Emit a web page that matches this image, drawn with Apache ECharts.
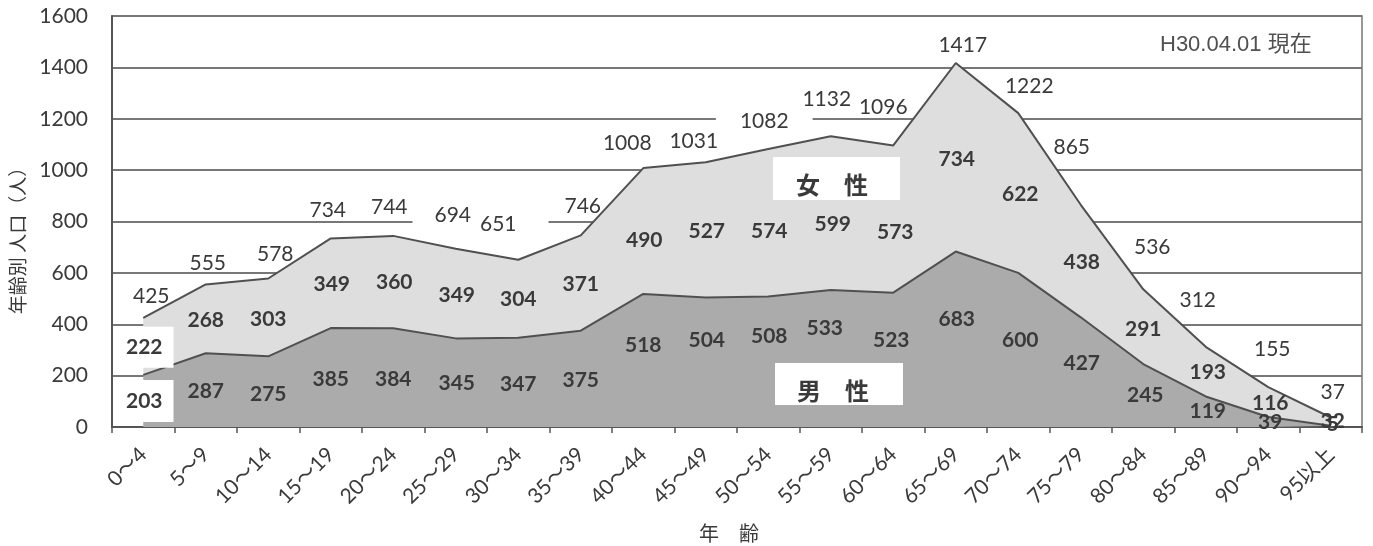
<!DOCTYPE html>
<html>
<head>
<meta charset="utf-8">
<script src="https://cdn.jsdelivr.net/npm/echarts@6/dist/echarts.min.js"></script>
<style>
  html, body { margin: 0; padding: 0; background: #ffffff; }
  #chart { width: 1373px; height: 546px; }
</style>
</head>
<body>
<div id="chart"></div>
<script>
// Population by 5-year age group (as of 2018-04-01)
const ageGroups = ['0～4', '5～9', '10～14', '15～19', '20～24', '25～29', '30～34', '35～39', '40～44', '45～49',
  '50～54', '55～59', '60～64', '65～69', '70～74', '75～79', '80～84', '85～89', '90～94', '95以上'];
const male = [203, 287, 275, 385, 384, 345, 347, 375, 518, 504, 508, 533, 523, 683, 600, 427, 245, 119, 39, 5];
const female = [222, 268, 303, 349, 360, 349, 304, 371, 490, 527, 574, 599, 573, 734, 622, 438, 291, 193, 116, 32];
const yMin = 0, yMax = 1600, yStep = 200;

const total = male.map((m, i) => m + female[i]);

// Label nudges in pixels, [dx, dy], so labels clear the lines and the legend boxes
const totalNudge = [[8, -22], [2, -21], [7, -24], [-3, -28], [-4, -29], [-1, -33], [-7, -36], [2, -29],
  [-16, -25], [-12, -21], [-4, -28], [-4, -37], [-10, -38], [7, -18], [11, -27], [-9, -58],
  [9, -42], [-8, -47], [4, -38], [2, -25]];
const femaleNudge = [[1, 1], [0, 1], [0, 2], [1, 1], [1, 0], [1, 2], [0, 0], [0, 1],
  [1, 9], [1, 1], [1, 8], [2, 11], [2, 13], [1, 2], [2, 1], [1, 1], [0, 3], [2, 1], [2, 1], [2, 0]];
const maleNudge = [[1, 0], [0, 1], [0, 3], [0, 2], [0, 2], [1, 1], [0, 2], [0, 1],
  [0, -15], [1, -22], [1, -26], [-6, -30], [-2, -20], [1, -20], [2, -10], [1, -9],
  [2, 0], [2, 0], [2, 0], [2, -2]];

// White boxes behind a few labels: [series, index, padding]
const labelBoxes = [
  ['total', 5, [1, 26, 1, 22]],
  ['total', 6, [1, 32, 1, 6]],
  ['total', 10, [1, 24, 1, 24]],
  ['female', 0, [14, 11, 9, 11]],
  ['male', 0, [14, 11, 10, 11]]
];

const NUM_FONT = 'Lato, "Noto Sans CJK JP", sans-serif';
const CJK_FONT = '"Noto Sans CJK JP", sans-serif';
const TEXT = '#3a3a3a';

function labelItems(name, values, anchor, nudge) {
  return values.map((v, i) => {
    const item = {
      value: [i, anchor[i], v],
      label: { offset: nudge[i] }
    };
    const box = labelBoxes.find(b => b[0] === name && b[1] === i);
    if (box) {
      item.label.backgroundColor = '#ffffff';
      item.label.padding = box[2];
    }
    return item;
  });
}

function labelSeries(name, data, bold) {
  return {
    type: 'scatter',
    name: name + 'Labels',
    data: data,
    symbolSize: 0,
    silent: true,
    z: 5,
    itemStyle: { opacity: 1 },
    label: {
      show: true,
      position: 'inside',
      opacity: 1,
      formatter: p => String(p.value[2]),
      fontFamily: NUM_FONT,
      fontSize: 21,
      lineHeight: 18,
      fontWeight: bold ? 'bold' : 'normal',
      color: TEXT
    },
    emphasis: { disabled: true }
  };
}

const chart = echarts.init(document.getElementById('chart'), null, { renderer: 'canvas' });

chart.setOption({
  animation: false,
  backgroundColor: '#ffffff',
  grid: {
    left: 112, right: 11, top: 16, bottom: 119,
    show: true, borderColor: '#777777', borderWidth: 1.5, backgroundColor: 'transparent'
  },
  xAxis: {
    type: 'category',
    data: ageGroups,
    boundaryGap: true,
    axisLine: { lineStyle: { color: '#555555', width: 2 } },
    axisTick: { show: true, length: 6, lineStyle: { color: '#555555', width: 1.5 } },
    axisLabel: {
      interval: 0, rotate: 45, margin: 24,
      fontFamily: NUM_FONT, fontSize: 21, color: TEXT
    },
    splitLine: { show: false }
  },
  yAxis: {
    type: 'value',
    min: yMin, max: yMax, interval: yStep,
    axisLine: { show: true, lineStyle: { color: '#555555', width: 2 } },
    axisTick: { show: false },
    axisLabel: {
      margin: 24, fontFamily: NUM_FONT, fontSize: 21, color: TEXT,
      formatter: v => String(v)
    },
    splitLine: { lineStyle: { color: '#777777', width: 2 } }
  },
  series: [
    {
      type: 'line', name: '男性', stack: 'pop', data: male,
      symbol: 'none', z: 2,
      lineStyle: { color: '#505050', width: 2 },
      areaStyle: { color: '#ababab', opacity: 1 }
    },
    {
      type: 'line', name: '女性', stack: 'pop', data: female,
      symbol: 'none', z: 2,
      lineStyle: { color: '#505050', width: 2 },
      areaStyle: { color: '#dedede', opacity: 1 }
    },
    labelSeries('male', labelItems('male', male, male.map(m => m / 2), maleNudge), true),
    labelSeries('female', labelItems('female', female, male.map((m, i) => m + female[i] / 2), femaleNudge), true),
    labelSeries('total', labelItems('total', total, total, totalNudge), false)
  ],
  graphic: [
    { type: 'rect', z: 100, shape: { x: 773, y: 157, width: 127, height: 43 }, style: { fill: '#ffffff' } },
    { type: 'text', z: 101, x: 832, y: 185,
      style: { text: '女　性', font: 'bold 24px ' + CJK_FONT, fill: TEXT, align: 'center', verticalAlign: 'middle' } },
    { type: 'rect', z: 100, shape: { x: 775, y: 363, width: 128, height: 42 }, style: { fill: '#ffffff' } },
    { type: 'text', z: 101, x: 833, y: 391,
      style: { text: '男　性', font: 'bold 24px ' + CJK_FONT, fill: TEXT, align: 'center', verticalAlign: 'middle' } },
    { type: 'text', z: 101, x: 1160, y: 45,
      style: { text: 'H30.04.01 現在', font: '22px "Liberation Sans", ' + CJK_FONT, fill: '#505050', align: 'left', verticalAlign: 'middle' } },
    { type: 'text', z: 101, x: 18, y: 236, rotation: Math.PI / 2,
      style: { text: '年齢別 人口（人）', font: '19px ' + CJK_FONT, fill: TEXT, align: 'center', verticalAlign: 'middle' } },
    { type: 'text', z: 101, x: 729, y: 533,
      style: { text: '年　齢', font: '20px ' + CJK_FONT, fill: TEXT, align: 'center', verticalAlign: 'middle' } }
  ]
});
</script>
</body>
</html>
